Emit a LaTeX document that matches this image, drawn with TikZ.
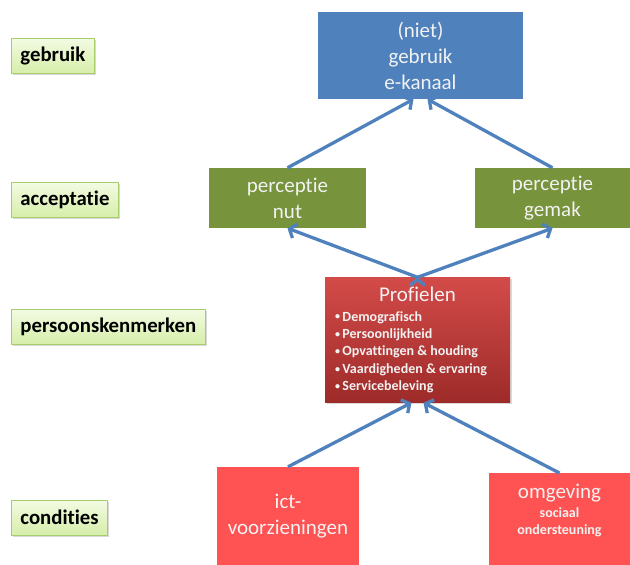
\documentclass[tikz,border=0pt]{standalone}
\usepackage{fontspec}
\setmainfont{Carlito}[Ligatures=NoCommon]
\usetikzlibrary{positioning, arrows.meta, shadows}
\definecolor{kanaalblauw}{HTML}{4F81BD}
\definecolor{olijf}{HTML}{77933C}
\definecolor{proftop}{HTML}{D34B49}
\definecolor{profbodem}{HTML}{9D2B29}
\definecolor{condrood}{HTML}{FF5252}
\definecolor{niveautop}{HTML}{F3FBE3}
\definecolor{niveaubodem}{HTML}{D6EEAA}
\definecolor{niveaurand}{HTML}{A8CE6C}
\newcommand{\opsom}{\raisebox{1.2pt}{\fontsize{10}{10}\selectfont•}\hspace{2.5pt}}
\tikzset{
>={Straight Barb[length=6pt,width=15pt]}, % open arrow heads
pijl/.style={->, draw=kanaalblauw, line width=3.3pt}, % the blue connectors
blok/.style={rectangle, inner sep=0pt, align=center, text=white!95!black, font=\fontsize{21}{26}\selectfont}, % coloured boxes
niveau/.style={rectangle, anchor=west, draw=niveaurand, line width=0.8pt, top color=niveautop, bottom color=niveaubodem, minimum height=35pt, inner xsep=9pt, font=\bfseries\fontsize{20.8}{22}\selectfont, drop shadow={opacity=0.3, shadow xshift=1.5pt, shadow yshift=-1.5pt}}, % level labels on the left
}

\begin{document}
\begin{tikzpicture}[x=1pt, y=-1pt]
                \useasboundingbox (0,0) rectangle (630,565);
                % levels
                \node[niveau] (lgebruik) at (11,55.5) {gebruik};
                \node[niveau] (lacceptatie) at (11,199.5) {acceptatie};
                \node[niveau] (lpersoon) at (11,326.5) {persoonskenmerken};
                \node[niveau] (lcondities) at (11,517.5) {condities};
                % boxes
                \node[blok, fill=kanaalblauw, minimum width=205pt, minimum height=87pt] (kanaal) at (420.5,55.5) {(niet)\\gebruik\\e-kanaal};
                \node[blok, fill=olijf, minimum width=157pt, minimum height=60pt] (pnut) at (287.5,198) {perceptie\\nut};
                \node[blok, fill=olijf, minimum width=155pt, minimum height=60pt] (pgemak) at (552.5,198) {perceptie\\gemak};
                \node[blok, align=left, top color=proftop, bottom color=profbodem, minimum width=185pt, minimum height=125pt, font=\bfseries\fontsize{14}{17.4}\selectfont, drop shadow={opacity=0.3, shadow xshift=1.5pt, shadow yshift=-1.5pt}] (prof) at (417.5,340)
                    {\makebox[165pt]{\mdseries\fontsize{21}{26}\selectfont Profielen}\\[2pt]
                     \opsom Demografisch\\\opsom Persoonlijkheid\\\opsom Opvattingen \& houding\\\opsom Vaardigheden \& ervaring\\\opsom Servicebeleving};
                \node[blok, fill=condrood, minimum width=142pt, minimum height=98pt] (ict) at (288,516) {ict-\\voorzieningen};
                \node[blok, fill=condrood, minimum width=141pt, minimum height=92pt, anchor=north,
                    label={[blok, anchor=north, label distance=-11pt, font=\bfseries\fontsize{14}{17}\selectfont]north:{{\mdseries\fontsize{21}{26}\selectfont omgeving}\\[2pt]sociaal\\ondersteuning}}] (omg) at (559.5,473) {};
                % connectors
                \draw[pijl] (prof.north) edge (pnut.south) edge (pgemak.south);
                \draw[pijl] (pnut.north) -- ([xshift=-7pt]kanaal.south);
                \draw[pijl] (pgemak.north) -- ([xshift=7pt]kanaal.south);
                \draw[pijl] (ict.north) -- ([xshift=-6pt]prof.south);
                \draw[pijl] (omg.north) -- ([xshift=6pt]prof.south);
            \end{tikzpicture}
\end{document}
